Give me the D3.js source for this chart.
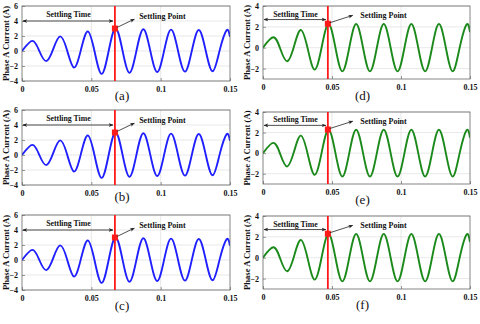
<!DOCTYPE html>
<html>
<head>
<meta charset="utf-8">
<script src="https://cdn.jsdelivr.net/npm/d3@7"></script>
<style>
  body { margin: 0; background: #fff; }
  svg { display: block; }
</style>
</head>
<body>
<script>
// waveform samples: extrema and mid points of each half cycle
const timeS = [0, 0.0075, 0.0125, 0.0175, 0.0225, 0.0275, 0.0325, 0.0375, 0.0425, 0.0475, 0.0525,
  0.0575, 0.0625, 0.0675, 0.0725, 0.0775, 0.0825, 0.0875, 0.0925, 0.0975, 0.1025, 0.1075,
  0.1125, 0.1175, 0.1225, 0.1275, 0.1325, 0.1375, 0.1425, 0.1475, 0.15];
const blueCurrent = [0, 1.35, 0, -1.35, 0.25, 1.95, 0.1, -2.2, 0.15, 2.6, -0.2,
  -3.05, 0, 3.0, 0.05, -2.9, 0, 2.9, 0.05, -2.8, 0.05, 2.85,
  0.05, -2.75, 0.05, 2.8, 0.05, -2.7, 0.05, 2.75, 1.9];
const greenCurrent = [0, 1.0, -0.1, -1.3, 0.15, 1.7, -0.15, -2.1, 0.05, 2.27, 0,
  -2.27, 0, 2.27, 0, -2.27, 0, 2.27, 0, -2.27, 0, 2.27,
  0, -2.27, 0, 2.27, 0, -2.27, 0, 2.22, 1.5];

const xTicks = [0, 0.05, 0.1, 0.15];
const xTickLabels = ["0", "0.05", "0.1", "0.15"];
const blueTicks = [-4, -2, 0, 2, 4, 6];
const greenTicks = [-2, 0, 2, 4];
const panelLetters = ["(a)", "(b)", "(c)", "(d)", "(e)", "(f)"];

// settling annotations (time / current units)
const blueSettle = {t: 0.067, v: 3.0, endT: 0.081, endV: 4.25, arrowV: 4.0, timeTextV: 4.85, pointT: 0.0845, pointTextV: 4.6};
const greenSettle = {t: 0.047, v: 2.3, endT: 0.065, endV: 3.1, arrowV: 2.7, timeTextV: 3.25, pointT: 0.0705, pointTextV: 3.1};

const width = 480, height = 324;
const serif = "'Liberation Serif', 'Times New Roman', serif";

const panels = [
  {x0: 22, x1: 230, top: 6,   h: 75, letterY: 100, data: blueCurrent, color: "#1f1fff", dom: [-4, 6], ticks: blueTicks, s: blueSettle, ylabX: 6},
  {x0: 22, x1: 230, top: 110, h: 75, letterY: 201, data: blueCurrent, color: "#1f1fff", dom: [-4, 6], ticks: blueTicks, s: blueSettle, ylabX: 6},
  {x0: 22, x1: 230, top: 215, h: 75, letterY: 310, data: blueCurrent, color: "#1f1fff", dom: [-4, 6], ticks: blueTicks, s: blueSettle, ylabX: 6},
  {x0: 263, x1: 470, top: 6,   h: 73, letterY: 100, data: greenCurrent, color: "#1b8a1b", dom: [-3, 4], ticks: greenTicks, s: greenSettle, ylabX: 247},
  {x0: 263, x1: 470, top: 112, h: 72, letterY: 204, data: greenCurrent, color: "#1b8a1b", dom: [-3, 4], ticks: greenTicks, s: greenSettle, ylabX: 247},
  {x0: 263, x1: 470, top: 216, h: 73, letterY: 309, data: greenCurrent, color: "#1b8a1b", dom: [-3, 4], ticks: greenTicks, s: greenSettle, ylabX: 247}
];

const svg = d3.select("body").append("svg")
  .attr("width", width).attr("height", height)
  .attr("viewBox", [0, 0, width, height]);

const defs = svg.append("defs");
defs.append("marker").attr("id", "arr").attr("viewBox", "0 0 10 10")
  .attr("refX", 9).attr("refY", 5).attr("markerWidth", 6).attr("markerHeight", 6)
  .attr("orient", "auto-start-reverse")
  .append("path").attr("d", "M0,1 L10,5 L0,9 L3,5 Z").attr("fill", "#222");

panels.forEach((p, i) => {
  const x = d3.scaleLinear().domain([0, 0.15]).range([p.x0, p.x1]);
  const y = d3.scaleLinear().domain(p.dom).range([p.top + p.h, p.top]);
  const g = svg.append("g");

  defs.append("clipPath").attr("id", "clip" + i).append("rect")
    .attr("x", p.x0).attr("y", p.top).attr("width", p.x1 - p.x0).attr("height", p.h);

  // grid
  g.append("g").selectAll("line").data(xTicks.slice(1, -1)).join("line")
    .attr("x1", d => x(d)).attr("x2", d => x(d)).attr("y1", p.top).attr("y2", p.top + p.h)
    .attr("stroke", "#dedede").attr("stroke-width", 0.7);
  g.append("g").selectAll("line").data(p.ticks).join("line")
    .attr("x1", p.x0).attr("x2", p.x1).attr("y1", d => y(d)).attr("y2", d => y(d))
    .attr("stroke", "#dedede").attr("stroke-width", 0.7);

  // axes
  const xAxis = g.append("g").attr("transform", `translate(0,${p.top + p.h})`)
    .call(d3.axisBottom(x).tickValues(xTicks).tickFormat((d, k) => xTickLabels[k]).tickSize(-3).tickPadding(5));
  const yAxis = g.append("g").attr("transform", `translate(${p.x0},0)`)
    .call(d3.axisLeft(y).tickValues(p.ticks).tickFormat(d3.format("d")).tickSize(-3).tickPadding(4));
  [xAxis, yAxis].forEach(a => {
    a.select(".domain").remove();
    a.selectAll(".tick line").attr("stroke", "#555").attr("stroke-width", 0.6);
    a.selectAll(".tick text").attr("font-family", serif).attr("font-weight", "bold")
      .attr("font-size", "8px").attr("fill", "#111");
  });

  // curve
  const line = d3.line().x((d, k) => x(timeS[k])).y(d => y(d)).curve(d3.curveNatural);
  g.append("path").datum(p.data).attr("clip-path", `url(#clip${i})`)
    .attr("fill", "none").attr("stroke", p.color).attr("stroke-width", 1.9).attr("d", line);

  // frame
  g.append("rect").attr("x", p.x0).attr("y", p.top).attr("width", p.x1 - p.x0).attr("height", p.h)
    .attr("fill", "none").attr("stroke", "#666").attr("stroke-width", 0.8);

  // settling line and point
  const s = p.s;
  g.append("line").attr("x1", x(s.t)).attr("x2", x(s.t)).attr("y1", p.top).attr("y2", p.top + p.h)
    .attr("stroke", "#ff1a1a").attr("stroke-width", 1.8);
  g.append("rect").attr("x", x(s.t) - 3).attr("y", y(s.v) - 3).attr("width", 6).attr("height", 6)
    .attr("fill", "#ff1a1a");

  // settling time double arrow
  g.append("line").attr("x1", x(0) + 1).attr("x2", x(s.t) - 2).attr("y1", y(s.arrowV)).attr("y2", y(s.arrowV))
    .attr("stroke", "#222").attr("stroke-width", 0.8)
    .attr("marker-start", "url(#arr)").attr("marker-end", "url(#arr)");
  g.append("text").attr("x", (x(0) + x(s.t)) / 2).attr("y", y(s.timeTextV)).attr("dy", "0.35em")
    .attr("text-anchor", "middle").attr("font-family", serif).attr("font-weight", "bold")
    .attr("font-size", "7.8px").attr("fill", "#111").text("Settling Time");

  // settling point arrow
  g.append("line").attr("x1", x(s.t) + 2).attr("y1", y(s.v) - 1).attr("x2", x(s.endT)).attr("y2", y(s.endV))
    .attr("stroke", "#222").attr("stroke-width", 0.8).attr("marker-end", "url(#arr)");
  g.append("text").attr("x", x(s.pointT)).attr("y", y(s.pointTextV)).attr("dy", "0.35em")
    .attr("font-family", serif).attr("font-weight", "bold")
    .attr("font-size", "8px").attr("fill", "#111").text("Settling Point");

  // y label
  g.append("text").attr("transform", `translate(${p.ylabX},${p.top + p.h / 2}) rotate(-90)`)
    .attr("text-anchor", "middle").attr("dy", "0.35em")
    .attr("font-family", serif).attr("font-weight", "bold").attr("font-size", "8.6px").attr("fill", "#111")
    .text("Phase A Current (A)");

  // panel letter
  g.append("text").attr("x", (p.x0 + p.x1) / 2 - 4).attr("y", p.letterY)
    .attr("text-anchor", "middle").attr("font-family", serif).attr("font-size", "13px").attr("fill", "#111")
    .text(panelLetters[i]);
});
</script>
</body>
</html>
